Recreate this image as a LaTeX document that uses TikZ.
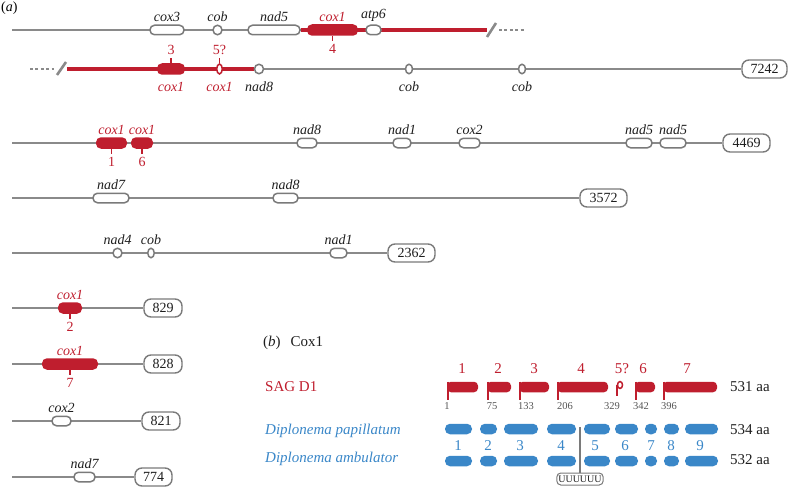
\documentclass[tikz,border=0pt]{standalone}
\usepackage{fontspec}
\setmainfont{Liberation Serif}
\usetikzlibrary{positioning,shapes.geometric,backgrounds}
\definecolor{Ink}{HTML}{1E1E1E}
\definecolor{Wire}{HTML}{8A8A8A}
\definecolor{Rim}{HTML}{7A7A7A}
\definecolor{Crimson}{HTML}{BF1E2E}
\definecolor{Sky}{HTML}{3A87C8}
\definecolor{Pos}{HTML}{555555}
\tikzset{
  chrom/.style={draw=Wire,line width=2.8pt},
  redchrom/.style={draw=Crimson,line width=4.6pt},
  breakline/.style={draw=Wire,line width=2.6pt,dash pattern=on 3pt off 2.4pt},
  slashmark/.style={draw=Wire,line width=2.6pt},
  genebox/.style={draw=Rim,fill=white,line width=1.5pt,rounded corners=4.5pt,minimum height=9.5pt,inner sep=0pt},
  dotgene/.style={draw=Rim,fill=white,line width=1.5pt,ellipse,minimum height=9.5pt,inner sep=0pt},
  coxbox/.style={fill=Crimson,rounded corners=5pt,minimum height=11.5pt,inner sep=0pt},
  lenbox/.style={draw=Rim,fill=white,line width=1.4pt,rounded corners=7pt,minimum height=18pt,minimum width=45pt,inner sep=0pt,font=\fontsize{14}{14}\selectfont,text=Ink},
  glabel/.style={font=\fontsize{14}{14}\selectfont\itshape,text=Ink,inner sep=1.5pt},
  rlabel/.style={font=\fontsize{14}{14}\selectfont\itshape,text=Crimson,inner sep=1.5pt},
  rnum/.style={font=\fontsize{14}{14}\selectfont,text=Crimson,inner sep=3pt},
  tickline/.style={draw=Crimson,line width=1.5pt},
  btext/.style={font=\fontsize{15}{15}\selectfont,text=Ink,inner sep=0pt,anchor=west},
  sagexon/.style={fill=Crimson,rounded corners=4pt,minimum height=10.5pt,inner sep=0pt},
  sagtick/.style={draw=Crimson,line width=1.7pt},
  blueexon/.style={fill=Sky,rounded corners=5pt,minimum height=10.5pt,inner sep=0pt},
  bnum/.style={font=\fontsize{15}{15}\selectfont,inner sep=0pt},
  posnum/.style={font=\fontsize{10.5}{10.5}\selectfont,text=Pos,inner sep=0pt},
  ubox/.style={draw=Rim,line width=1pt,rounded corners=4pt,minimum height=12pt,inner xsep=1.5pt,inner ysep=0pt,font=\fontsize{10}{10}\selectfont,text=Ink},
  uline/.style={draw=Rim,line width=1.1pt}
}

\begin{document}
\begin{tikzpicture}[x=1pt,y=-1pt,label distance=1pt]
\useasboundingbox (0,0) rectangle (788,487);
\node[font=\fontsize{14}{14}\selectfont,anchor=west,inner sep=0pt] (tagA) at (1,8) {(\textit{a})};

% --- 7242 (two pieces)
\coordinate (r1start) at (12,30);
\coordinate (r1cut) at (487,30);
\coordinate (r1s1) at (487,37);
\coordinate (r1s2) at (496,23);
\coordinate (r1d1) at (499,30);
\coordinate (r1d2) at (524,30);
\node[genebox,minimum width=34pt,label={[glabel]above:cox3}] (r1cox3) at (167,30) {};
\node[dotgene,minimum width=9pt,label={[glabel]above:cob}] (r1cob) at (217.5,30) {};
\node[genebox,minimum width=52pt,label={[glabel]above:nad5}] (r1nad5) at (274,30) {};
\node[coxbox,minimum width=51pt,label={[rlabel]above:cox1}] (r1cox1) at (332.5,30) {};
\node[genebox,minimum width=15pt,label={[glabel]above:atp6}] (r1atp6) at (373.5,30) {};
\draw[tickline] (r1cox1.south) -- ++(0,5) node[rnum,below] (r1n4) {4};

\coordinate (r2d1) at (30,69);
\coordinate (r2d2) at (54,69);
\coordinate (r2s1) at (57,75);
\coordinate (r2s2) at (66,62);
\coordinate (r2start) at (67,69);
\node[lenbox] (len7242) at (764.5,69) {7242};
\node[coxbox,minimum width=28pt,label={[rlabel,yshift=-5pt]below:cox1}] (r2cox1a) at (171,69) {};
\node[dotgene,draw=Crimson,minimum width=5.5pt,minimum height=10pt,label={[rlabel,yshift=-5pt]below:cox1}] (r2cox1b) at (219.5,69) {};
\node[dotgene,minimum width=9pt,label={[glabel,yshift=-5pt]below:nad8}] (r2nad8) at (259,69) {};
\node[dotgene,minimum width=7pt,label={[glabel,yshift=-5pt]below:cob}] (r2cob1) at (409,69) {};
\node[dotgene,minimum width=7pt,label={[glabel,yshift=-5pt]below:cob}] (r2cob2) at (522,69) {};
\draw[tickline] (r2cox1a.north) -- ++(0,-5) node[rnum,above] (r2n3) {3};
\draw[tickline] (r2cox1b.north) -- ++(0,-5) node[rnum,above] (r2n5) {5?};

% --- 4469
\coordinate (r3start) at (12,143);
\node[lenbox,minimum width=47pt] (len4469) at (746.5,143) {4469};
\node[coxbox,minimum width=31pt,label={[rlabel]above:cox1}] (r3cox1a) at (111.5,143) {};
\node[coxbox,minimum width=22pt,label={[rlabel]above:cox1}] (r3cox1b) at (142,143) {};
\node[genebox,minimum width=20pt,label={[glabel]above:nad8}] (r3nad8) at (307,143) {};
\node[genebox,minimum width=18pt,label={[glabel]above:nad1}] (r3nad1) at (402,143) {};
\node[genebox,minimum width=21pt,label={[glabel]above:cox2}] (r3cox2) at (469.5,143) {};
\node[genebox,minimum width=26pt,label={[glabel]above:nad5}] (r3nad5a) at (639,143) {};
\node[genebox,minimum width=26pt,label={[glabel]above:nad5}] (r3nad5b) at (673,143) {};
\draw[tickline] (r3cox1a.south) -- ++(0,5) node[rnum,below] (r3n1) {1};
\draw[tickline] (r3cox1b.south) -- ++(0,5) node[rnum,below] (r3n6) {6};

% --- 3572
\coordinate (r4start) at (12,198);
\node[lenbox,minimum width=47pt] (len3572) at (603.5,198) {3572};
\node[genebox,minimum width=36pt,label={[glabel]above:nad7}] (r4nad7) at (111,198) {};
\node[genebox,minimum width=25pt,label={[glabel]above:nad8}] (r4nad8) at (285.5,198) {};

% --- 2362
\coordinate (r5start) at (12,253);
\node[lenbox,minimum width=47pt] (len2362) at (411.5,253) {2362};
\node[dotgene,minimum width=9pt,label={[glabel]above:nad4}] (r5nad4) at (117.5,253) {};
\node[dotgene,minimum width=6.5pt,label={[glabel]above:cob}] (r5cob) at (151,253) {};
\node[genebox,minimum width=17pt,label={[glabel]above:nad1}] (r5nad1) at (338.5,253) {};

% --- small circles
\coordinate (r6start) at (12,308);
\node[lenbox,minimum width=38pt] (len829) at (163,308) {829};
\node[coxbox,minimum width=24pt,label={[rlabel]above:cox1}] (r6cox1) at (70,308) {};
\draw[tickline] (r6cox1.south) -- ++(0,5) node[rnum,below] (r6n2) {2};

\coordinate (r7start) at (12,364);
\node[lenbox,minimum width=38pt] (len828) at (163,364) {828};
\node[coxbox,minimum width=56pt,label={[rlabel]above:cox1}] (r7cox1) at (70,364) {};
\draw[tickline] (r7cox1.south) -- ++(0,5) node[rnum,below] (r7n7) {7};

\coordinate (r8start) at (12,421);
\node[lenbox,minimum width=38pt] (len821) at (161,421) {821};
\node[genebox,minimum width=19pt,label={[glabel]above:cox2}] (r8cox2) at (61.5,421) {};

\coordinate (r9start) at (12,477);
\node[lenbox,minimum width=37pt] (len774) at (153.5,477) {774};
\node[genebox,minimum width=21pt,label={[glabel]above:nad7}] (r9nad7) at (84.5,477) {};

\begin{scope}[on background layer]
  \draw[chrom] (r1start) -- (r1nad5.east);
  \draw[redchrom] (r1nad5.east) -- (r1cut);
  \draw[slashmark] (r1s1) -- (r1s2);
  \draw[breakline] (r1d1) -- (r1d2);
  \draw[breakline] (r2d1) -- (r2d2);
  \draw[slashmark] (r2s1) -- (r2s2);
  \draw[redchrom] (r2start) -- (r2nad8);
  \draw[chrom] (r2nad8) -- (len7242);
  \draw[chrom] (r3start) -- (len4469);
  \draw[chrom] (r4start) -- (len3572);
  \draw[chrom] (r5start) -- (len2362);
  \draw[chrom] (r6start) -- (len829);
  \draw[chrom] (r7start) -- (len828);
  \draw[chrom] (r8start) -- (len821);
  \draw[chrom] (r9start) -- (len774);
\end{scope}

% --- (b) Cox1
\node[btext] (tagB) at (263,343) {(\textit{b})\hspace{10pt}Cox1};
\node[btext,text=Crimson] (sag) at (265,387) {SAG D1};
\node[btext,text=Sky,font=\fontsize{15}{15}\selectfont\itshape] (dpap) at (265,431) {Diplonema papillatum};
\node[btext,text=Sky,font=\fontsize{15}{15}\selectfont\itshape] (damb) at (265,459) {Diplonema ambulator};

\foreach \a/\b/\n/\lx in {447/478/1/462,487/511/2/498,519/549/3/534,557/608/4/581,635/655/6/643,663/717/7/687}{
  \node[sagexon,minimum width={(\b-\a)*1pt}] (s\n) at ({(\a+\b)/2},387) {};
  \draw[sagtick] ([xshift=0.85pt]s\n.north west) -- ++(0,18);
  \node[bnum,text=Crimson] (sl\n) at (\lx,369) {\n};
}
\node[ellipse,draw=Crimson,fill=white,line width=1.5pt,minimum width=5pt,minimum height=7pt,inner sep=0pt] (s5) at (620,385) {};
\draw[sagtick] (s5.west) -- ++(0,11);
\node[bnum,text=Crimson] (sl5) at (622,369) {5?};

\foreach \v/\x in {1/447,75/492,133/526,206/565,329/612,342/641,396/669}{
  \node[posnum] (pos\v) at (\x,406) {\v};
}

\foreach \a/\b/\n/\lx in {445/472/1/458,480/497/2/488,504/538/3/520,547/576/4/561,584/610/5/595,615/638/6/625,645/657/7/651,664/679/8/671,685/718/9/700}{
  \node[blueexon,minimum width={(\b-\a)*1pt}] (pap\n) at ({(\a+\b)/2},429) {};
  \node[blueexon,minimum width={(\b-\a)*1pt}] (amb\n) at ({(\a+\b)/2},461) {};
  \node[bnum,text=Sky] (bl\n) at (\lx,446) {\n};
}

\node[btext] (aa531) at (730,387) {531 aa};
\node[btext] (aa534) at (730,430) {534 aa};
\node[btext] (aa532) at (730,460) {532 aa};

\coordinate (ucut) at (580,427);
\node[ubox] (uu) at (580,479) {UUUUUU};
\draw[uline] (ucut) -- (uu.north);
\end{tikzpicture}
\end{document}
